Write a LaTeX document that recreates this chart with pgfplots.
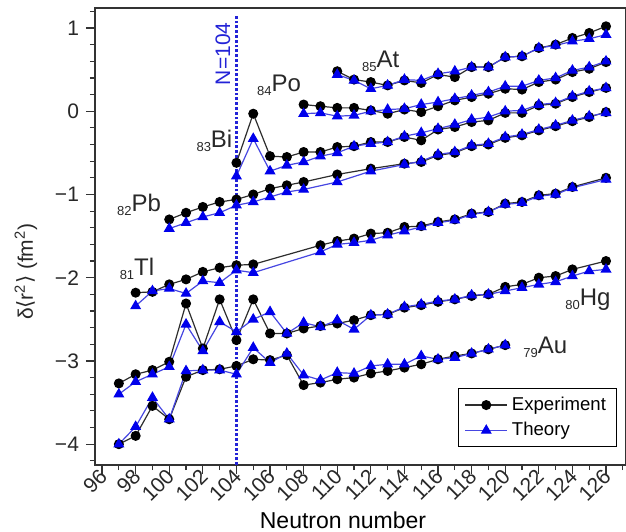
\documentclass[border=0pt]{standalone}
\usepackage{pgfplots}
\pgfplotsset{compat=1.18}
\usepackage{pgfplotstable}
\usepackage{fontspec}
\setmainfont{Liberation Sans}
\newfontfamily\dejavu{DejaVu Sans}

\definecolor{expline}{RGB}{45,45,45}
\definecolor{thline}{RGB}{70,70,225}
\definecolor{thmark}{RGB}{0,0,235}
\definecolor{labgray}{RGB}{40,40,40}
\definecolor{nblue}{RGB}{35,35,215}

% N  exp  theory
\pgfplotstableread{
N    ex     th
97  -4.00  -4.00
98  -3.90  -3.79
99  -3.54  -3.44
100 -3.70  -3.70
101 -3.19  -3.12
102 -3.11  -3.11
103 -3.10  -3.11
104 -3.06  -3.16
105 -2.98  -2.84
106 -2.99  -3.02
107 -2.93  -2.91
108 -3.29  -3.17
109 -3.26  -3.23
110 -3.22  -3.14
111 -3.20  -3.15
112 -3.15  -3.06
113 -3.12  -3.04
114 -3.08  -3.04
115 -3.04  -2.94
116 -2.98  -2.98
117 -2.94  -2.96
118 -2.91  -2.91
119 -2.86  -2.86
120 -2.81  -2.81
}\Au
\pgfplotstableread{
N    ex     th
97  -3.27  -3.40
98  -3.16  -3.25
99  -3.11  -3.16
100 -3.01  -3.07
101 -2.31  -2.56
102 -2.85  -2.88
103 -2.26  -2.53
104 -2.75  -2.65
105 -2.26  -2.50
106 -2.67  -2.41
107 -2.67  -2.67
108 -2.61  -2.54
109 -2.58  -2.59
110 -2.55  -2.51
111 -2.51  -2.62
112 -2.45  -2.45
113 -2.44  -2.44
114 -2.36  -2.35
115 -2.33  -2.32
116 -2.29  -2.28
117 -2.26  -2.26
118 -2.22  -2.21
119 -2.20  -2.20
120 -2.11  -2.16
121 -2.08  -2.12
122 -2.00  -2.08
123 -1.98  -2.05
124 -1.90  -1.98
125  nan   -1.92
126 -1.80  -1.90
}\Hg
\pgfplotstableread{
N    ex     th
98  -2.18  -2.34
99  -2.17  -2.16
100 -2.08  -2.13
101 -2.02  -2.19
102 -1.93  -2.04
103 -1.88  -2.06
104 -1.85  -1.91
105 -1.84  -1.94
109 -1.61  -1.69
110 -1.56  -1.60
111 -1.53  -1.58
112 -1.47  -1.55
113 -1.46  -1.49
114 -1.39  -1.44
115 -1.38  -1.39
116 -1.33  -1.34
117 -1.30  -1.31
118 -1.23  -1.24
119 -1.21  -1.21
120 -1.11  -1.12
121 -1.09  -1.10
122 -1.01  -1.02
123 -0.99  -1.00
124 -0.91  -0.92
126 -0.80  -0.82
}\Tl
\pgfplotstableread{
N    ex     th
100 -1.30  -1.41
101 -1.22  -1.34
102 -1.15  -1.27
103 -1.09  -1.22
104 -1.06  -1.13
105 -1.00  -1.09
106 -0.93  -1.03
107 -0.89  -0.97
108 -0.85  -0.94
110 -0.76  -0.85
112 -0.69  -0.72
114 -0.63  -0.64
115 -0.61  -0.60
116 -0.53  -0.52
117 -0.50  -0.49
118 -0.42  -0.41
119 -0.40  -0.39
120 -0.32  -0.31
121 -0.29  -0.28
122 -0.23  -0.22
123 -0.18  -0.17
124 -0.12  -0.11
125 -0.07  -0.06
126 -0.01  -0.02
}\Pb
\pgfplotstableread{
N    ex     th
104 -0.62  -0.78
105 -0.03  -0.33
106 -0.54  -0.72
107 -0.55  -0.65
108 -0.49  -0.61
109 -0.49  -0.54
110 -0.43  -0.50
111 -0.42  -0.42
112 -0.37  -0.39
113 -0.37  -0.37
114 -0.31  -0.30
115 -0.35  -0.26
116 -0.22  -0.21
117 -0.19  -0.16
118 -0.13  -0.10
119 -0.11  -0.07
120 -0.02   0.00
121 -0.02   0.01
122  0.07   0.08
123  0.09   0.10
124  0.17   0.18
125  0.23   0.24
126  0.28   0.28
}\Bi
\pgfplotstableread{
N    ex     th
108  0.08  -0.03
109  0.06  -0.02
110  0.04  -0.06
111  0.04  -0.05
112  0.01   0.00
113 -0.03   0.02
114  0.02   0.03
115 -0.01   0.08
116  0.06   0.11
117  0.13   0.15
118  0.17   0.19
119  0.21   0.23
120  0.27   0.30
121  0.26   0.30
122  0.35   0.37
123  0.38   0.40
124  0.47   0.49
125  0.51   0.53
126  0.59   0.60
}\Po
\pgfplotstableread{
N    ex     th
110  0.48   0.44
111  0.38   0.37
112  0.35   0.27
113  0.31   0.31
114  0.37   0.38
115  0.34   0.37
116  0.44   0.45
117  0.41   0.48
118  0.53   0.53
119  0.53   0.53
120  0.65   0.65
121  0.66   0.66
122  0.76   0.76
123  0.80   0.79
124  0.88   0.84
125  0.94   0.87
126  1.02   0.92
}\At

\pgfplotsset{
  expst/.style={expline, line width=0.6pt, mark=*, mark size=2.2pt,
    mark options={fill=black, draw=black, solid}},
  thst/.style={thline, line width=0.6pt, mark=triangle*, mark size=2.6pt,
    mark options={fill=thmark, draw=thmark, solid}},
}
\newcommand{\elem}[2]{\raisebox{-2pt}{\fontsize{6.5}{7}\selectfont #1}{\fontsize{12}{14}\selectfont #2}}

\begin{document}
\begin{tikzpicture}
\begin{axis}[
  scale only axis, width=265.5pt, height=228.5pt,
  xmin=95.58, xmax=127.19, ymin=-4.25, ymax=1.24,
  xtick={96,98,...,126}, minor xtick={97,99,...,127},
  ytick={-4,-3,...,1}, yticklabels={−4,−3,−2,−1,0,1},
  minor ytick={-4.2,-4.0,...,1.2},
  xtick pos=left, ytick pos=left,
  tick align=outside, major tick length=4.5pt, minor tick length=2.5pt,
  axis line style={black!80, line width=0.7pt},
  every tick/.style={black!80, line width=0.6pt},
  /pgf/number format/assume math mode=true,
  xticklabel style={rotate=45, anchor=east, inner sep=1pt, xshift=2pt,
    font=\fontsize{10.5}{12}\selectfont, text=labgray},
  yticklabel style={font=\fontsize{10.5}{12}\selectfont, text=labgray},
  xlabel={Neutron number},
  xlabel style={font=\fontsize{11.5}{13}\selectfont, at={(rel axis cs:0.467,0)},
    anchor=base, yshift=-31.5pt},
  legend style={at={(rel axis cs:0.684,0.039)}, anchor=south west,
    draw=black, font=\fontsize{9.3}{11}\selectfont, inner xsep=3pt, inner ysep=2pt,
    row sep=0.5pt, cells={anchor=west}},
  legend image code/.code={\draw[mark repeat=2, mark phase=2]
    plot coordinates {(0cm,0cm) (0.37cm,0cm) (0.74cm,0cm)};},
  clip=false,
]
% N = 104 marker
\addplot[nblue, line width=1.5pt, dash pattern=on 1.4pt off 1pt, forget plot]
  coordinates {(104,-4.25) (104,1.17)};

\addplot[expst] table[x=N, y=ex] {\Au};
\addlegendentry{Experiment}
\addplot[thst] table[x=N, y=th] {\Au};
\addlegendentry{Theory}
\addplot[expst, forget plot] table[x=N, y=ex] {\Hg};
\addplot[thst, forget plot] table[x=N, y=th] {\Hg};
\addplot[expst, forget plot] table[x=N, y=ex] {\Tl};
\addplot[thst, forget plot] table[x=N, y=th] {\Tl};
\addplot[expst, forget plot] table[x=N, y=ex] {\Pb};
\addplot[thst, forget plot] table[x=N, y=th] {\Pb};
\addplot[expst, forget plot] table[x=N, y=ex] {\Bi};
\addplot[thst, forget plot] table[x=N, y=th] {\Bi};
\addplot[expst, forget plot] table[x=N, y=ex] {\Po};
\addplot[thst, forget plot] table[x=N, y=th] {\Po};
\addplot[expst, forget plot] table[x=N, y=ex] {\At};
\addplot[thst, forget plot] table[x=N, y=th] {\At};

\node[rotate=90, text=nblue, font=\fontsize{10.5}{12}\selectfont] at (axis cs:103.2,0.69) {N=104};

\begin{scope}[every node/.style={anchor=base west, inner sep=0pt, text=labgray}]
\node at (axis cs:111.46,0.52) {\elem{85}{At}};
\node at (axis cs:105.21,0.24) {\elem{84}{Po}};
\node at (axis cs:101.6,-0.44) {\elem{83}{Bi}};
\node at (axis cs:96.87,-1.20) {\elem{82}{Pb}};
\node at (axis cs:97.03,-1.97) {\elem{81}{Tl}};
\node at (axis cs:123.56,-2.33) {\elem{80}{Hg}};
\node at (axis cs:121.06,-2.91) {\elem{79}{Au}};
\end{scope}

\node[rotate=90, text=labgray, font=\fontsize{10.5}{12}\selectfont]
  at ([xshift=-34.5pt]rel axis cs:0,0.423)
  {δ{\dejavu ⟨}r\textsuperscript{2}{\dejavu ⟩} (fm\textsuperscript{2})};
\end{axis}
\pgfresetboundingbox
\path ([shift={(-47.5pt,-33pt)}]current axis.south west) rectangle ([shift={(0pt,4pt)}]current axis.north east);
\end{tikzpicture}
\end{document}
